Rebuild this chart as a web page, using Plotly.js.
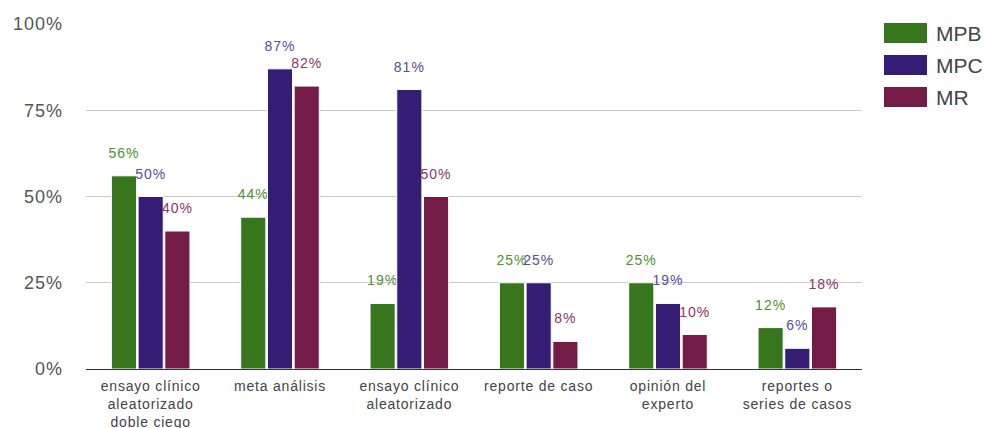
<!DOCTYPE html>
<html>
<head>
<meta charset="utf-8">
<script src="https://cdn.plot.ly/plotly-3.0.1.min.js"></script>
<style>
html,body{margin:0;padding:0;background:#fff}
#chart{width:984px;height:428px}
.xtick text{letter-spacing:0.8px}
.ytick text{letter-spacing:1px}
.bartext{letter-spacing:1px}
</style>
</head>
<body>
<div id="chart"></div>
<script>
const categories = [
  "ensayo clínico<br>aleatorizado<br>doble ciego",
  "meta análisis",
  "ensayo clínico<br>aleatorizado",
  "reporte de caso",
  "opinión del<br>experto",
  "reportes o<br>series de casos"
];
const seriesNames = ["MPB", "MPC", "MR"];
const mpb = [56, 44, 19, 25, 25, 12];
const mpc = [50, 87, 81, 25, 19, 6];
const mr  = [40, 82, 50, 8, 10, 18];
const yTicks = [0, 25, 50, 75, 100];
const yTickLabels = ["0%", "25%", "50%", "75%", "100%"];

const barColors = ["#38761d", "#351c75", "#741b47"];
const labelColors = ["#4f8f2f", "#5b4a9e", "#8c3563"];
const values = [mpb, mpc, mr];

const traces = values.map((v, i) => ({
  type: "bar",
  name: seriesNames[i],
  legendgroup: seriesNames[i],
  x: categories,
  y: v,
  marker: {color: barColors[i], line: {color: "#ffffff", width: 1}},
  text: v.map(d => d + "%"),
  textposition: "outside",
  constraintext: "none",
  cliponaxis: false,
  textfont: {family: "Liberation Sans, Arial, sans-serif", size: 14, color: labelColors[i]},
  hoverinfo: "x+y"
}));

const layout = {
  width: 984, height: 428,
  margin: {l: 86, r: 122, t: 24, b: 59, autoexpand: false},
  paper_bgcolor: "#ffffff",
  plot_bgcolor: "#ffffff",
  font: {family: "Liberation Sans, Arial, sans-serif", color: "#444"},
  barmode: "group",
  bargap: 0.38,
  bargroupgap: 0.06,
  uniformtext: {mode: false},
  showlegend: true,
  legend: {
    x: 1.02, xanchor: "left", y: 1.0, yanchor: "top",
    font: {size: 21, color: "#444"},
    itemwidth: 50,
    tracegroupgap: 6,
    bgcolor: "rgba(0,0,0,0)"
  },
  xaxis: {
    tickfont: {size: 14, color: "#444"},
    showline: true, linecolor: "#333", linewidth: 1,
    ticks: "", fixedrange: true,
    ticklabelstandoff: 4
  },
  yaxis: {
    range: [0, 100],
    tickvals: yTicks, ticktext: yTickLabels,
    tickfont: {size: 18, color: "#555"},
    gridcolor: "#cccccc", gridwidth: 1,
    zeroline: false, showline: false,
    ticks: "", ticklen: 0, fixedrange: true,
    ticklabelstandoff: 22
  }
};

Plotly.newPlot("chart", traces, layout, {displayModeBar: false, staticPlot: true}).then(() => {
  const rowCenters = [33, 65, 97];
  const scroll = document.querySelector(".legend .scrollbox");
  if (scroll) scroll.removeAttribute("clip-path");
  document.querySelectorAll(".legend .traces").forEach((g, i) => {
    const parentCTM = g.parentNode.getCTM();
    g.setAttribute("transform", "translate(0," + (rowCenters[i] - parentCTM.f) + ")");
    const path = g.querySelector(".legendpoints path");
    if (path) {
      const c = path.getCTM();
      const x0 = 884 - c.e;
      const y0 = rowCenters[i] - c.f;
      path.setAttribute("d", "M" + x0 + "," + (y0 - 10) + "H" + (x0 + 43) + "V" + (y0 + 10) + "H" + x0 + "Z");
      path.style.strokeWidth = "0";
    }
    const t = g.querySelector(".legendtext");
    if (t) {
      const c = t.getCTM();
      const nx = 936 - c.e;
      t.setAttribute("x", nx);
      t.querySelectorAll("tspan").forEach(s => { if (s.hasAttribute("x")) s.setAttribute("x", nx); });
    }
  });
  document.querySelectorAll(".bartext").forEach(t => {
    const tr = t.getAttribute("transform") || "";
    t.setAttribute("transform", "translate(0,-12) " + tr);
  });
});
</script>
</body>
</html>
